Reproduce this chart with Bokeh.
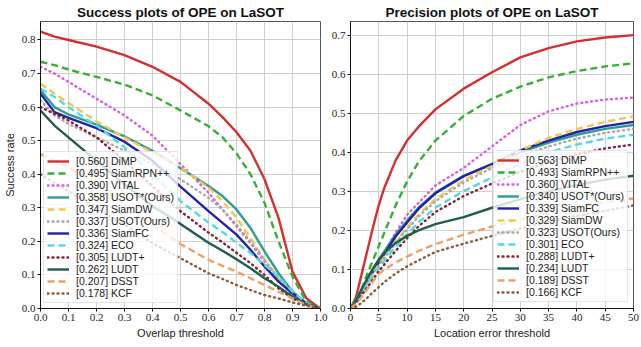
from bokeh.plotting import figure
from bokeh.layouts import row
from bokeh.models import Legend, LegendItem, FixedTicker, Range1d, NumeralTickFormatter
from bokeh.embed import file_html
from bokeh.resources import INLINE

# ---------------- data ----------------
overlap_thr = [0, 0.05, 0.1, 0.2, 0.3, 0.4, 0.5, 0.6, 0.65, 0.7, 0.75, 0.8, 0.85, 0.9, 0.95, 1.0]
succ_dimp = [0.825, 0.81, 0.80, 0.78, 0.755, 0.72, 0.675, 0.61, 0.57, 0.525, 0.47, 0.385, 0.27, 0.11, 0.03, 0.0]
succ_siamrpn = [0.735, 0.725, 0.712, 0.69, 0.667, 0.635, 0.59, 0.543, 0.51, 0.462, 0.40, 0.315, 0.20, 0.095, 0.02, 0.0]
succ_vital = [0.72, 0.70, 0.675, 0.625, 0.575, 0.515, 0.43, 0.345, 0.295, 0.245, 0.195, 0.14, 0.085, 0.04, 0.012, 0.0]
succ_usot_star = [0.65, 0.60, 0.578, 0.548, 0.513, 0.47, 0.418, 0.365, 0.335, 0.295, 0.24, 0.17, 0.105, 0.05, 0.015, 0.0]
succ_siamdw = [0.67, 0.64, 0.612, 0.558, 0.51, 0.465, 0.42, 0.36, 0.32, 0.27, 0.21, 0.145, 0.09, 0.045, 0.015, 0.0]
succ_usot = [0.62, 0.575, 0.55, 0.51, 0.47, 0.43, 0.385, 0.33, 0.295, 0.25, 0.20, 0.145, 0.09, 0.045, 0.015, 0.0]
succ_siamfc = [0.64, 0.585, 0.568, 0.537, 0.497, 0.44, 0.363, 0.29, 0.255, 0.22, 0.175, 0.125, 0.08, 0.045, 0.015, 0.0]
succ_eco = [0.655, 0.63, 0.60, 0.545, 0.48, 0.40, 0.32, 0.256, 0.228, 0.196, 0.165, 0.13, 0.095, 0.05, 0.015, 0.0]
succ_ludtp = [0.60, 0.58, 0.56, 0.51, 0.44, 0.365, 0.29, 0.226, 0.197, 0.166, 0.135, 0.10, 0.06, 0.03, 0.01, 0.0]
succ_ludt = [0.59, 0.545, 0.51, 0.44, 0.37, 0.305, 0.252, 0.196, 0.172, 0.147, 0.12, 0.09, 0.065, 0.035, 0.012, 0.0]
succ_dsst = [0.46, 0.44, 0.42, 0.37, 0.31, 0.25, 0.192, 0.145, 0.127, 0.11, 0.09, 0.07, 0.05, 0.03, 0.01, 0.0]
succ_kcf = [0.40, 0.375, 0.35, 0.30, 0.25, 0.195, 0.15, 0.105, 0.088, 0.07, 0.055, 0.04, 0.03, 0.018, 0.008, 0.0]

loc_thr = [0, 1, 2, 3, 4, 5, 6, 8, 10, 12, 15, 20, 25, 30, 35, 40, 45, 50]
prec_dimp = [0, 0.03, 0.09, 0.15, 0.21, 0.265, 0.31, 0.38, 0.43, 0.465, 0.51, 0.563, 0.605, 0.643, 0.667, 0.684, 0.694, 0.70]
prec_siamrpn = [0, 0.02, 0.05, 0.09, 0.125, 0.16, 0.195, 0.265, 0.325, 0.375, 0.43, 0.493, 0.537, 0.568, 0.592, 0.608, 0.62, 0.628]
prec_vital = [0, 0.015, 0.04, 0.07, 0.095, 0.12, 0.145, 0.195, 0.24, 0.27, 0.315, 0.36, 0.415, 0.47, 0.505, 0.525, 0.535, 0.54]
prec_usot_star = [0, 0.025, 0.05, 0.075, 0.10, 0.125, 0.147, 0.19, 0.225, 0.258, 0.297, 0.340, 0.37, 0.40, 0.425, 0.445, 0.46, 0.47]
prec_siamfc = [0, 0.02, 0.045, 0.07, 0.095, 0.118, 0.14, 0.185, 0.22, 0.255, 0.295, 0.339, 0.37, 0.405, 0.43, 0.452, 0.467, 0.478]
prec_siamdw = [0, 0.02, 0.045, 0.07, 0.092, 0.113, 0.133, 0.172, 0.207, 0.24, 0.28, 0.329, 0.365, 0.405, 0.437, 0.46, 0.478, 0.492]
prec_usot = [0, 0.02, 0.045, 0.068, 0.09, 0.11, 0.13, 0.168, 0.203, 0.235, 0.275, 0.323, 0.36, 0.39, 0.415, 0.435, 0.45, 0.46]
prec_eco = [0, 0.018, 0.04, 0.062, 0.083, 0.103, 0.122, 0.158, 0.19, 0.22, 0.258, 0.301, 0.335, 0.37, 0.40, 0.42, 0.435, 0.445]
prec_ludtp = [0, 0.015, 0.035, 0.055, 0.075, 0.095, 0.113, 0.148, 0.18, 0.21, 0.247, 0.288, 0.32, 0.35, 0.375, 0.395, 0.41, 0.42]
prec_ludt = [0, 0.02, 0.05, 0.078, 0.103, 0.125, 0.143, 0.168, 0.186, 0.20, 0.216, 0.234, 0.258, 0.28, 0.30, 0.316, 0.33, 0.34]
prec_dsst = [0, 0.012, 0.03, 0.05, 0.07, 0.088, 0.10, 0.118, 0.133, 0.147, 0.165, 0.189, 0.21, 0.228, 0.245, 0.26, 0.272, 0.282]
prec_kcf = [0, 0.005, 0.015, 0.028, 0.042, 0.055, 0.068, 0.09, 0.108, 0.123, 0.145, 0.166, 0.186, 0.205, 0.222, 0.237, 0.25, 0.264]

succ_labels = ["[0.560] DiMP", "[0.495] SiamRPN++", "[0.390] VITAL", "[0.358] USOT*(Ours)",
               "[0.347] SiamDW", "[0.337] USOT(Ours)", "[0.336] SiamFC", "[0.324] ECO",
               "[0.305] LUDT+", "[0.262] LUDT", "[0.207] DSST", "[0.178] KCF"]
succ_series = [succ_dimp, succ_siamrpn, succ_vital, succ_usot_star, succ_siamdw, succ_usot,
               succ_siamfc, succ_eco, succ_ludtp, succ_ludt, succ_dsst, succ_kcf]
succ_keys = ["DiMP", "SiamRPN++", "VITAL", "USOT*", "SiamDW", "USOT", "SiamFC", "ECO",
             "LUDT+", "LUDT", "DSST", "KCF"]

prec_labels = ["[0.563] DiMP", "[0.493] SiamRPN++", "[0.360] VITAL", "[0.340] USOT*(Ours)",
               "[0.339] SiamFC", "[0.329] SiamDW", "[0.323] USOT(Ours)", "[0.301] ECO",
               "[0.288] LUDT+", "[0.234] LUDT", "[0.189] DSST", "[0.166] KCF"]
prec_series = [prec_dimp, prec_siamrpn, prec_vital, prec_usot_star, prec_siamfc, prec_siamdw,
               prec_usot, prec_eco, prec_ludtp, prec_ludt, prec_dsst, prec_kcf]
prec_keys = ["DiMP", "SiamRPN++", "VITAL", "USOT*", "SiamFC", "SiamDW", "USOT", "ECO",
             "LUDT+", "LUDT", "DSST", "KCF"]

# ---------------- styles ----------------
STYLE = {
    "DiMP": ("#d62f2f", "solid"),
    "SiamRPN++": ("#35b035", "7 4"),
    "VITAL": ("#d860d8", "1 4"),
    "USOT*": ("#2f9c95", "solid"),
    "SiamDW": ("#f2c84b", "7 4"),
    "USOT": ("#a8a8a8", "1 4"),
    "SiamFC": ("#2222a8", "solid"),
    "ECO": ("#4fdbe3", "7 4"),
    "LUDT+": ("#8a2038", "1 4"),
    "LUDT": ("#1f5e4e", "solid"),
    "DSST": ("#f0a064", "7 4"),
    "KCF": ("#8c5a3a", "1 4"),
}

TICK_FONT = "Liberation Serif"
SANS = "Liberation Sans"


def make_fig(width, height, xr, yr, xticks, yticks, xfmt, title, xlabel, ylabel,
             bl, br, bt, bb):
    p = figure(width=width, height=height, output_backend="svg", toolbar_location=None,
               x_range=Range1d(*xr), y_range=Range1d(*yr),
               min_border_left=bl, min_border_right=br, min_border_top=bt, min_border_bottom=bb)
    p.title.text = title
    p.title.align = "center"
    p.title.text_font = SANS
    p.title.text_font_style = "bold"
    p.title.text_font_size = "13.5px"
    p.title.text_color = "#111111"
    p.title.offset = 0
    p.title.standoff = 4
    p.xaxis.ticker = FixedTicker(ticks=xticks)
    p.yaxis.ticker = FixedTicker(ticks=yticks)
    p.xaxis.formatter = NumeralTickFormatter(format=xfmt)
    p.yaxis.formatter = NumeralTickFormatter(format="0.0")
    for ax in (p.xaxis, p.yaxis):
        ax.major_label_text_font = TICK_FONT
        ax.major_label_text_font_size = "11px"
        ax.major_label_text_color = "#222222"
        ax.major_tick_in = 0
        ax.major_tick_out = 3
        ax.minor_tick_in = 0
        ax.minor_tick_out = 0
        ax.major_label_standoff = 2
        ax.axis_line_color = "#111111"
        ax.major_tick_line_color = "#111111"
        ax.axis_label_text_font = SANS
        ax.axis_label_text_font_size = "11px"
        ax.axis_label_text_font_style = "normal"
        ax.axis_label_text_color = "#222222"
        ax.axis_label_standoff = 3
    p.xaxis.axis_label = xlabel
    if ylabel:
        p.yaxis.axis_label = ylabel
    p.grid.grid_line_color = "#cfcfcf"
    p.grid.grid_line_width = 1
    p.outline_line_color = "#555555"
    p.outline_line_width = 1
    p.background_fill_color = "white"
    p.border_fill_color = "white"
    return p


def add_curves(p, xs, series, keys, labels, loc):
    items = []
    for ys, key, lab in zip(series, keys, labels):
        color, dash = STYLE[key]
        r = p.line(xs, ys, line_color=color, line_width=2.4, line_dash=dash,
                   line_cap="round" if dash == "1 4" else "butt")
        items.append(LegendItem(label=lab, renderers=[r]))
    leg = Legend(items=items, location=loc)
    leg.label_text_font = SANS
    leg.label_text_font_size = "10.5px"
    leg.label_text_color = "#222222"
    leg.label_height = 10
    leg.glyph_height = 10
    leg.glyph_width = 22
    leg.label_standoff = 7
    leg.spacing = 0
    leg.padding = 3
    leg.margin = 0
    leg.background_fill_color = "white"
    leg.background_fill_alpha = 0.8
    leg.border_line_color = "#cccccc"
    leg.border_line_width = 1
    p.add_layout(leg, "center")


p1 = make_fig(328, 347, (0, 1), (0, 0.855),
              [0, 0.1, 0.2, 0.3, 0.4, 0.5, 0.6, 0.7, 0.8, 0.9, 1.0],
              [0, 0.1, 0.2, 0.3, 0.4, 0.5, 0.6, 0.7, 0.8], "0.0",
              "Success plots of OPE on LaSOT", "Overlap threshold", "Success rate",
              37, 8, 0, 39)
add_curves(p1, overlap_thr, succ_series, succ_keys, succ_labels, (3, 5))

p2 = make_fig(313, 347, (0, 50), (0, 0.735),
              [0, 5, 10, 15, 20, 25, 30, 35, 40, 45, 50],
              [0, 0.1, 0.2, 0.3, 0.4, 0.5, 0.6, 0.7], "0",
              "Precision plots of OPE on LaSOT", "Location error threshold", None,
              21, 8, 0, 38)
add_curves(p2, loc_thr, prec_series, prec_keys, prec_labels, (143, 6))

layout = row(p1, p2)
open("out.html", "w").write(file_html(layout, INLINE))
